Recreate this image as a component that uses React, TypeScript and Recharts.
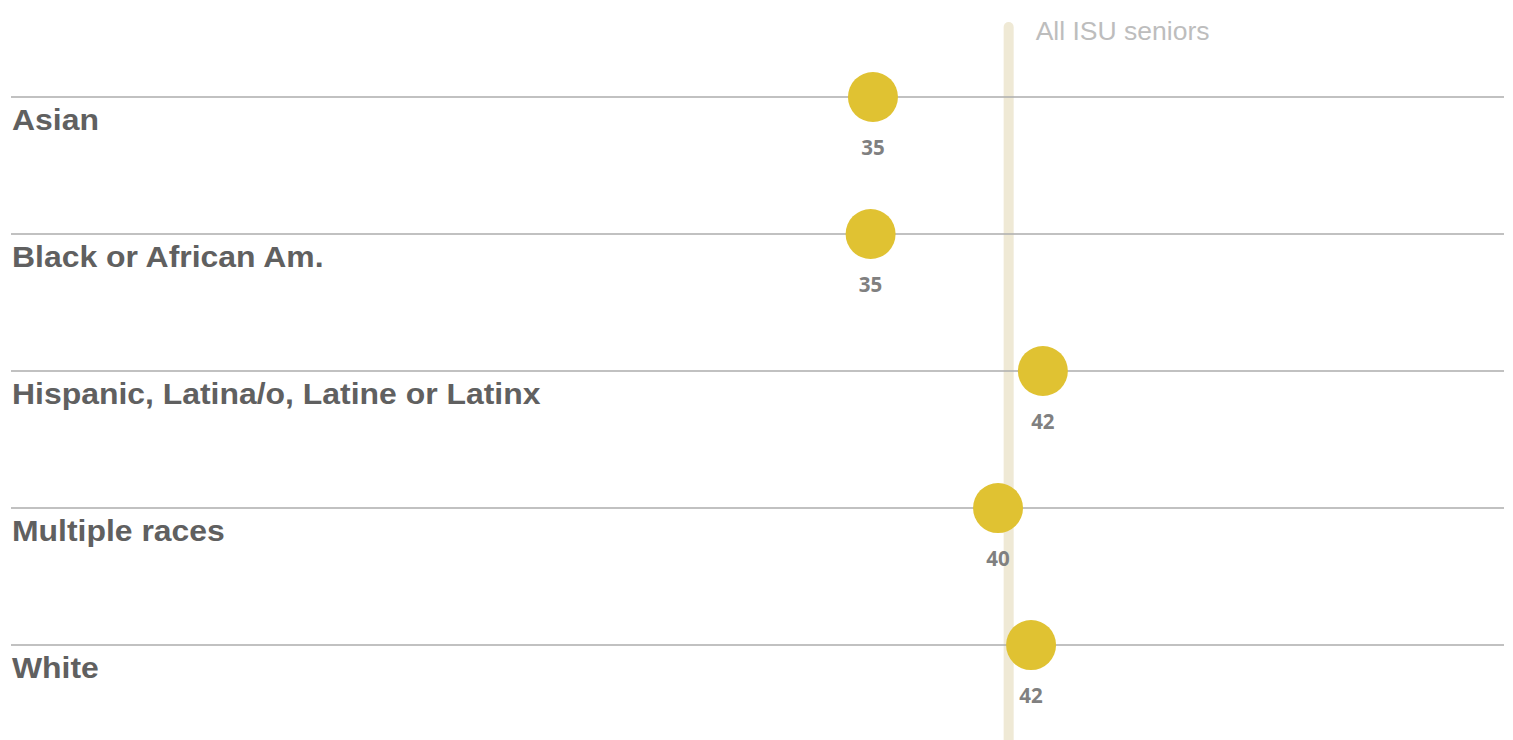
import React from "react";
import { ScatterChart, Scatter, XAxis, YAxis, ReferenceLine } from "recharts";

const categories = [
  "Asian",
  "Black or African Am.",
  "Hispanic, Latina/o, Latine or Latinx",
  "Multiple races",
  "White",
];
const values = [35.0, 34.9, 42.2, 40.3, 41.7];
const allSeniorsValue = 40.75;
const allSeniorsLabel = "All ISU seniors";

const data = categories.map((c, i) => ({ category: c, idx: i, value: values[i] }));

const X_DOMAIN: [number, number] = [-1.525, 61.74];
const Y_DOMAIN: [number, number] = [-0.708, 4.693];

const DotShape = (props: any) => {
  const { cx, cy, payload } = props;
  return (
    <g>
      <circle cx={cx} cy={cy} r={25} fill="#e0c232" />
      <text
        x={cx}
        y={cy + 58}
        textAnchor="middle"
        fontFamily="'Open Sans', sans-serif"
        fontWeight={700}
        fontSize={20.5}
        fill="#808080"
      >
        {Math.round(payload.value)}
      </text>
    </g>
  );
};

const CategoryLabel = (name: string) => (props: any) => {
  const vb = props.viewBox || {};
  return (
    <text
      transform={`translate(${vb.x + 1},${vb.y + 32.5}) scale(1.09,1)`}
      x={0}
      y={0}
      fontFamily="'Liberation Sans', Arial, sans-serif"
      fontWeight={700}
      fontSize={29.3}
      fill="#606060"
    >
      {name}
    </text>
  );
};

const SeniorsLabel = (props: any) => {
  const vb = props.viewBox || {};
  return (
    <text
      transform={`translate(${vb.x + 27},40) scale(1.04,1)`}
      x={0}
      y={0}
      fontFamily="'Liberation Sans', Arial, sans-serif"
      fontSize={25.5}
      fill="#bdbdbd"
    >
      {allSeniorsLabel}
    </text>
  );
};

export default function App() {
  return (
    <div style={{ position: "absolute", left: 0, top: 0, width: 1513, height: 740, background: "#fff" }}>
      <ScatterChart width={1513} height={740} margin={{ top: 0, right: 9, bottom: 0, left: 11 }}>
        <XAxis type="number" dataKey="value" domain={X_DOMAIN} hide allowDataOverflow />
        <YAxis type="number" dataKey="idx" domain={Y_DOMAIN} reversed hide allowDataOverflow />
        <ReferenceLine
          segment={[
            { x: allSeniorsValue, y: -0.511 },
            { x: allSeniorsValue, y: Y_DOMAIN[1] },
          ]}
          stroke="#efe9d5"
          strokeWidth={10}
          strokeLinecap="round"
          label={SeniorsLabel}
        />
        {categories.map((c, i) => (
          <ReferenceLine
            key={c}
            y={i}
            stroke="#adadad"
            strokeWidth={1.5}
            label={CategoryLabel(c)}
          />
        ))}
        <Scatter data={data} shape={DotShape} isAnimationActive={false} />
      </ScatterChart>
    </div>
  );
}
